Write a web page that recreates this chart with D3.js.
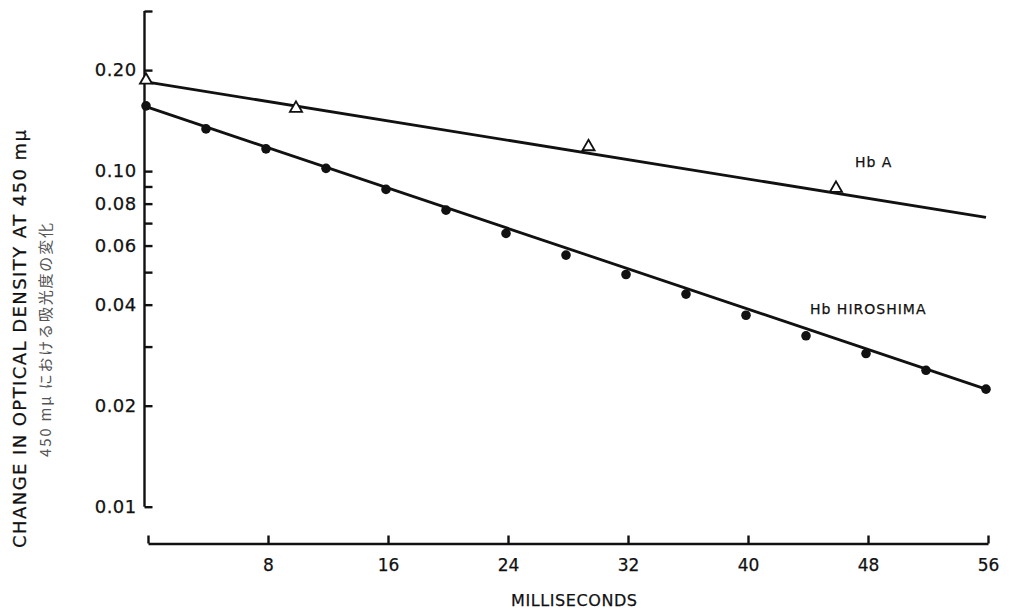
<!DOCTYPE html>
<html>
<head>
<meta charset="utf-8">
<script src="https://cdn.jsdelivr.net/npm/d3@7"></script>
<style>
  body { margin: 0; background: #fff; }
  svg text { font-family: "DejaVu Sans", sans-serif; fill: #111; stroke: #111; stroke-width: 0.25px; }
</style>
</head>
<body>
<div id="chart"></div>
<script>
// Hb HIROSHIMA, filled dots, every 4 ms
const hiroTimes = [0, 4, 8, 12, 16, 20, 24, 28, 32, 36, 40, 44, 48, 52, 56];
const hiroValues = [0.1565, 0.1336, 0.1165, 0.1019, 0.0882, 0.0765, 0.0652, 0.0562,
  0.0492, 0.0430, 0.0372, 0.0323, 0.0286, 0.0255, 0.0224];
// fitted line, ends only
const hiroFitTimes = [0, 56];
const hiroFitValues = [0.1556, 0.0224];

// Hb A, open triangles
const hbaTimes = [0, 10, 29.5, 46];
const hbaValues = [0.1866, 0.1538, 0.1182, 0.0888];
const hbaFitTimes = [0, 56];
const hbaFitValues = [0.1845, 0.0728];

const xTicks = [0, 8, 16, 24, 32, 40, 48, 56];
const yLabelled = [0.01, 0.02, 0.04, 0.06, 0.08, 0.10, 0.20];
const yMinor = [0.03, 0.05, 0.07, 0.09, 0.3];

const W = 1018, H = 609;

const svg = d3.select('#chart').append('svg')
  .attr('width', W)
  .attr('height', H);

// scales
const x = d3.scaleLinear().domain([0, 56]).range([146, 986]);
const y = d3.scaleLog().domain([0.01, 0.3]).range([506.7, 11]);

// y axis, ticks pointing into the plot
const yAxis = d3.axisLeft(y)
  .tickValues(yLabelled.concat(yMinor))
  .tickSizeInner(-8)
  .tickSizeOuter(0)
  .tickPadding(8)
  .tickFormat(d => yLabelled.includes(d) ? d.toFixed(2) : '');

const gy = svg.append('g')
  .attr('transform', `translate(${x(0) - 1.5},0)`)
  .call(yAxis);
gy.selectAll('path, line').attr('stroke', '#111').attr('stroke-width', 2.4);
gy.selectAll('text')
  .style('font-size', '18px')
  .style('letter-spacing', '0.4px');
gy.select('.domain').attr('d', `M0,${y(0.3)}V${y(0.01)}`);

// x axis, a separate line below
const xAxis = d3.axisBottom(x)
  .tickValues(xTicks)
  .tickSizeInner(-8)
  .tickSizeOuter(0)
  .tickPadding(15)
  .tickFormat(d => d === 0 ? '' : d);

const gx = svg.append('g')
  .attr('transform', 'translate(2,543.5)')
  .call(xAxis);
gx.selectAll('path, line').attr('stroke', '#111').attr('stroke-width', 2.4);
gx.selectAll('text').style('font-size', '17px');

svg.append('text')
  .attr('x', 574)
  .attr('y', 606)
  .attr('text-anchor', 'middle')
  .attr('textLength', 126)
  .style('font-size', '16px')
  .text('MILLISECONDS');

// y titles
svg.append('text')
  .attr('transform', 'translate(26,339) rotate(-90)')
  .attr('text-anchor', 'middle')
  .attr('textLength', 418)
  .style('font-size', '18px')
  .text('CHANGE IN OPTICAL DENSITY AT 450 mμ');

svg.append('text')
  .attr('transform', 'translate(51,340) rotate(-90)')
  .attr('text-anchor', 'middle')
  .attr('textLength', 234)
  .style('font-family', '"Noto Sans CJK JP", sans-serif')
  .style('font-size', '15px')
  .style('fill', '#555')
  .style('stroke', 'none')
  .text('450 mμ における吸光度の変化');

// fitted lines
const line = d3.line()
  .x(d => x(d[0]))
  .y(d => y(d[1]));

const fits = [
  d3.zip(hbaFitTimes, hbaFitValues),
  d3.zip(hiroFitTimes, hiroFitValues),
];

svg.append('g')
  .selectAll('path')
  .data(fits)
  .join('path')
  .attr('d', line)
  .attr('fill', 'none')
  .attr('stroke', '#111')
  .attr('stroke-width', 2.8);

// points
svg.append('g')
  .selectAll('circle')
  .data(d3.zip(hiroTimes, hiroValues))
  .join('circle')
  .attr('cx', d => x(d[0]))
  .attr('cy', d => y(d[1]))
  .attr('r', 4.8)
  .attr('fill', '#111');

const tri = d3.symbol().type(d3.symbolTriangle).size(64);
svg.append('g')
  .selectAll('path')
  .data(d3.zip(hbaTimes, hbaValues))
  .join('path')
  .attr('transform', d => `translate(${x(d[0])},${y(d[1])})`)
  .attr('d', tri)
  .attr('fill', '#fff')
  .attr('stroke', '#111')
  .attr('stroke-width', 1.8);

// series labels
svg.append('text')
  .attr('x', 855)
  .attr('y', 167)
  .style('font-size', '14px')
  .style('letter-spacing', '1px')
  .text('Hb A');

svg.append('text')
  .attr('x', 810)
  .attr('y', 314)
  .style('font-size', '14px')
  .style('letter-spacing', '1px')
  .text('Hb HIROSHIMA');
</script>
</body>
</html>
